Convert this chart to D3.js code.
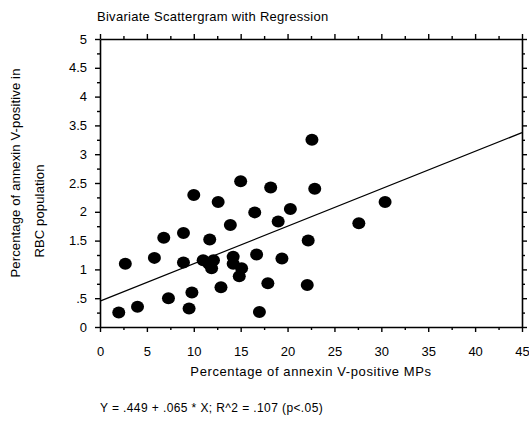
<!DOCTYPE html>
<html>
<head>
<meta charset="utf-8">
<script src="https://cdn.jsdelivr.net/npm/d3@7"></script>
<style>
  body { margin: 0; background: #fff; }
  svg text { font-family: "Liberation Sans", Arial, sans-serif; fill: #000; }
  .axis path, .axis line { stroke: #000; }
</style>
</head>
<body>
<div id="chart"></div>
<script>
// --- data ---
const mpPercent = [2.0, 4.0, 2.7, 5.8, 6.8, 7.3, 8.9, 8.9, 9.8, 9.5, 10.0, 11.7, 22.6, 15.0, 18.2, 22.9,
  12.6, 16.5, 20.3, 13.9, 19.0, 22.2, 11.0, 12.1, 11.9, 11.6, 14.2, 14.2, 15.1, 14.85, 16.7, 19.4,
  12.9, 17.9, 22.1, 17.0, 30.4, 27.6];
const rbcPercent = [0.25, 0.35, 1.1, 1.2, 1.55, 0.5, 1.63, 1.12, 0.6, 0.32, 2.29, 1.52, 3.25, 2.53, 2.42, 2.4,
  2.17, 1.99, 2.05, 1.77, 1.83, 1.5, 1.16, 1.16, 1.02, 1.1, 1.22, 1.1, 1.02, 0.88, 1.26, 1.19,
  0.69, 0.76, 0.73, 0.26, 2.17, 1.8];

const xMajorTicks = [0, 5, 10, 15, 20, 25, 30, 35, 40, 45];
const xMinorTicks = [2.5, 7.5, 12.5, 17.5, 22.5, 27.5, 32.5, 37.5, 42.5];
const yMajorTicks = [0, 0.5, 1, 1.5, 2, 2.5, 3, 3.5, 4, 4.5, 5];
const yMinorTicks = [0.25, 0.75, 1.25, 1.75, 2.25, 2.75, 3.25, 3.75, 4.25, 4.75];

const intercept = 0.449;
const slope = 0.065;

const titleText = "Bivariate Scattergram with Regression";
const xTitle = "Percentage of annexin V-positive MPs";
const yTitle1 = "Percentage of annexin V-positive in";
const yTitle2 = "RBC population";
const equationText = "Y = .449 + .065 * X; R^2 = .107 (p<.05)";

// --- layout ---
const width = 529, height = 430;
const margin = { top: 39, right: 7, bottom: 103, left: 100 };
const plotW = width - margin.left - margin.right;
const plotH = height - margin.top - margin.bottom;

const svg = d3.select("#chart").append("svg")
  .attr("width", width)
  .attr("height", height);

const g = svg.append("g").attr("transform", `translate(${margin.left},${margin.top})`);

const x = d3.scaleLinear().domain([0, 45]).range([0, plotW]);
const y = d3.scaleLinear().domain([0, 5]).range([plotH, 0]);

const fmtY = d => d === 0 ? "0" : String(d).replace(/^0\./, ".");

// major + minor ticks on every side, all pointing outwards
function drawAxis(axisFn, scale, transform, majors, minors, labelled, fmt, pad) {
  const major = g.append("g").attr("class", "axis").attr("transform", transform)
    .call(axisFn(scale).tickValues(majors).tickSize(5).tickSizeOuter(0).tickPadding(pad || 8)
      .tickFormat(labelled ? fmt : ""));
  major.select(".domain").attr("stroke-width", 1.6);
  major.selectAll(".tick line").attr("stroke-width", 1.4);
  major.selectAll("text").style("font-size", "13px");
  g.append("g").attr("class", "axis").attr("transform", transform)
    .call(axisFn(scale).tickValues(minors).tickSize(3).tickSizeOuter(0).tickFormat(""))
    .call(s => s.select(".domain").remove())
    .selectAll(".tick line").attr("stroke-width", 1.4);
}

drawAxis(d3.axisBottom, x, `translate(0,${plotH})`, xMajorTicks, xMinorTicks, true, d3.format("d"), 15);
drawAxis(d3.axisTop, x, "translate(0,0)", xMajorTicks, xMinorTicks, false);
drawAxis(d3.axisLeft, y, "translate(0,0)", yMajorTicks, yMinorTicks, true, fmtY, 8);
drawAxis(d3.axisRight, y, `translate(${plotW},0)`, yMajorTicks, yMinorTicks, false);

// regression line over the full x range
const xDomain = x.domain();
g.append("line")
  .attr("x1", x(xDomain[0])).attr("y1", y(intercept + slope * xDomain[0]))
  .attr("x2", x(xDomain[1])).attr("y2", y(intercept + slope * xDomain[1]))
  .attr("stroke", "#000")
  .attr("stroke-width", 1.2);

// points
g.append("g").selectAll("ellipse")
  .data(mpPercent.map((v, i) => [v, rbcPercent[i]]))
  .enter()
  .append("ellipse")
  .attr("cx", d => x(d[0]))
  .attr("cy", d => y(d[1]))
  .attr("rx", 6.5)
  .attr("ry", 6)
  .attr("fill", "#000");

// texts
svg.append("text")
  .attr("x", 97).attr("y", 21)
  .style("font-size", "13px")
  .style("letter-spacing", "0.28px")
  .text(titleText);

svg.append("text")
  .attr("x", margin.left + plotW / 2).attr("y", 376)
  .attr("text-anchor", "middle")
  .style("font-size", "13px")
  .style("letter-spacing", "0.6px")
  .text(xTitle);

svg.append("text")
  .attr("transform", "translate(20,173) rotate(-90)")
  .attr("text-anchor", "middle")
  .style("font-size", "13px")
  .style("letter-spacing", "0.15px")
  .text(yTitle1);

svg.append("text")
  .attr("transform", "translate(44,211) rotate(-90)")
  .attr("text-anchor", "middle")
  .style("font-size", "13px")
  .style("letter-spacing", "0.15px")
  .text(yTitle2);

svg.append("text")
  .attr("x", 100).attr("y", 412)
  .style("font-size", "12px")
  .style("letter-spacing", "0.4px")
  .text(equationText);
</script>
</body>
</html>
